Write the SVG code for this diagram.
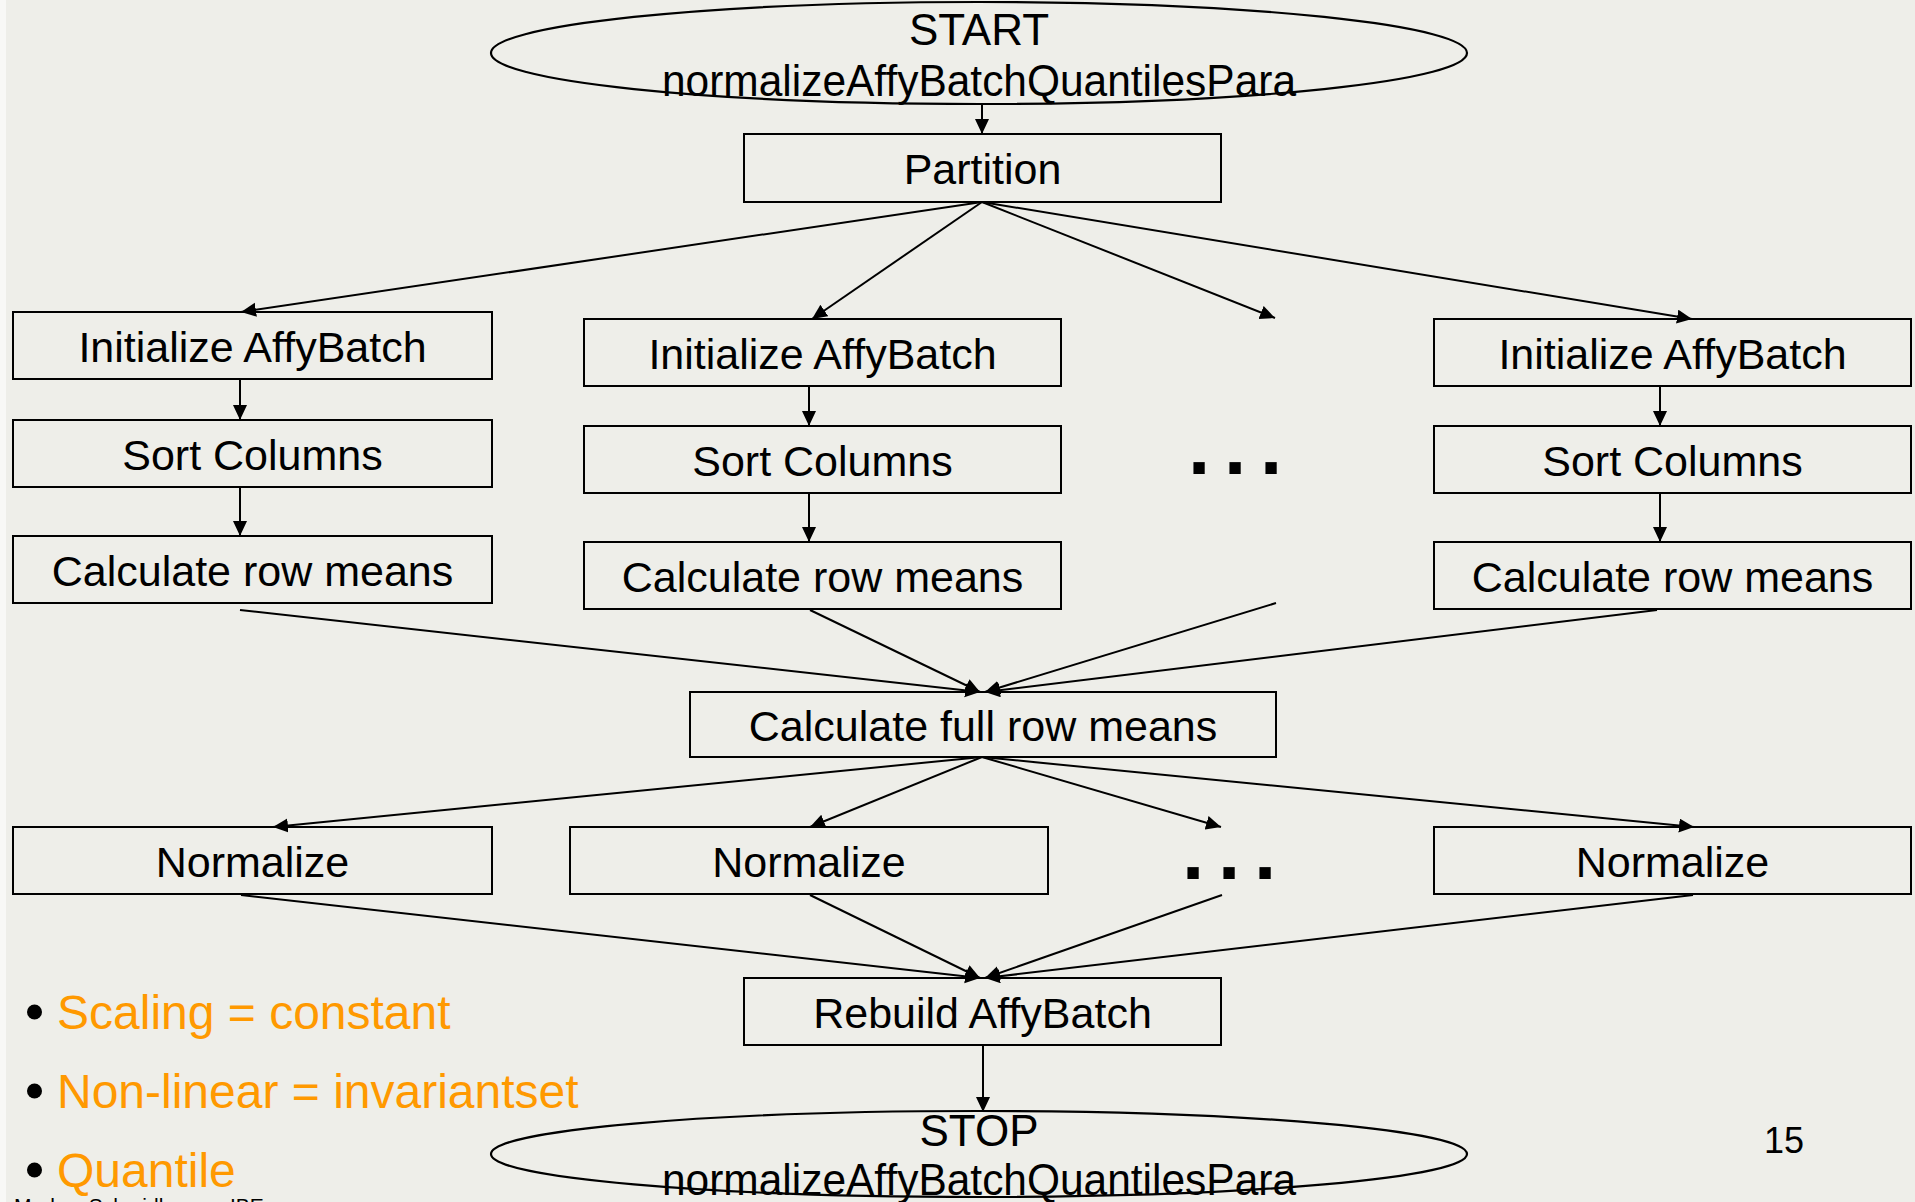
<svg xmlns="http://www.w3.org/2000/svg" width="1915" height="1202" viewBox="0 0 1915 1202">
  <style>
    .bg { fill: #EEEEE9; }
    .box { fill: none; stroke: #000; stroke-width: 2; }
    .term { fill: none; stroke: #000; stroke-width: 2.2; }
    .lbl { font-family: "Liberation Sans", Arial, sans-serif; font-size: 43px; fill: #000; text-anchor: middle; }
    .tlbl { font-family: "Liberation Sans", Arial, sans-serif; font-size: 44px; fill: #000; text-anchor: middle; }
    .dots { font-family: "Liberation Sans", Arial, sans-serif; font-size: 80px; font-weight: bold; fill: #000; }
    .edge { fill: none; stroke: #000; stroke-width: 2; }
    .bullet { font-family: "Liberation Sans", Arial, sans-serif; font-size: 48px; fill: #FF9900; }
    .dot { fill: #000; }
    .foot { font-family: "Liberation Sans", Arial, sans-serif; font-size: 21px; fill: #000; }
    .page { font-family: "Liberation Sans", Arial, sans-serif; font-size: 36px; fill: #000; }
  </style>
  <defs>
    <marker id="arrow" markerUnits="userSpaceOnUse" markerWidth="16" markerHeight="15" refX="15" refY="7" orient="auto">
      <path d="M0,0 L15,7 L0,14 z" fill="#000"/>
    </marker>
  </defs>

  <rect class="bg" x="0" y="0" width="1915" height="1202"/>
  <rect x="0" y="0" width="6" height="1202" fill="#F8F8F6"/>

  <!-- connectors -->
  <g id="connectors">
    <line class="edge" x1="982" y1="104" x2="982" y2="134" marker-end="url(#arrow)"/>
    <!-- partition fan-out -->
    <line class="edge" x1="982" y1="202" x2="241" y2="312" marker-end="url(#arrow)"/>
    <line class="edge" x1="982" y1="202" x2="812" y2="319" marker-end="url(#arrow)"/>
    <line class="edge" x1="982" y1="202" x2="1275" y2="318" marker-end="url(#arrow)"/>
    <line class="edge" x1="982" y1="202" x2="1692" y2="319" marker-end="url(#arrow)"/>
    <!-- column 1 -->
    <line class="edge" x1="240" y1="379" x2="240" y2="420" marker-end="url(#arrow)"/>
    <line class="edge" x1="240" y1="487" x2="240" y2="536" marker-end="url(#arrow)"/>
    <!-- column 2 -->
    <line class="edge" x1="809" y1="386" x2="809" y2="426" marker-end="url(#arrow)"/>
    <line class="edge" x1="809" y1="493" x2="809" y2="542" marker-end="url(#arrow)"/>
    <!-- column 4 -->
    <line class="edge" x1="1660" y1="386" x2="1660" y2="426" marker-end="url(#arrow)"/>
    <line class="edge" x1="1660" y1="493" x2="1660" y2="542" marker-end="url(#arrow)"/>
    <!-- row means merge -->
    <line class="edge" x1="240" y1="610" x2="980" y2="692" marker-end="url(#arrow)"/>
    <line class="edge" x1="810" y1="610" x2="980" y2="692" marker-end="url(#arrow)"/>
    <line class="edge" x1="1276" y1="603" x2="985" y2="692" marker-end="url(#arrow)"/>
    <line class="edge" x1="1657" y1="610" x2="985" y2="692" marker-end="url(#arrow)"/>
    <!-- full row means fan-out -->
    <line class="edge" x1="982" y1="757" x2="273" y2="827" marker-end="url(#arrow)"/>
    <line class="edge" x1="982" y1="757" x2="810" y2="827" marker-end="url(#arrow)"/>
    <line class="edge" x1="982" y1="757" x2="1221" y2="827" marker-end="url(#arrow)"/>
    <line class="edge" x1="982" y1="757" x2="1694" y2="827" marker-end="url(#arrow)"/>
    <!-- normalize merge -->
    <line class="edge" x1="241" y1="895" x2="980" y2="978" marker-end="url(#arrow)"/>
    <line class="edge" x1="810" y1="895" x2="980" y2="978" marker-end="url(#arrow)"/>
    <line class="edge" x1="1222" y1="895" x2="985" y2="978" marker-end="url(#arrow)"/>
    <line class="edge" x1="1693" y1="895" x2="985" y2="978" marker-end="url(#arrow)"/>
    <!-- to stop -->
    <line class="edge" x1="983" y1="1045" x2="983" y2="1112" marker-end="url(#arrow)"/>
  </g>

  <!-- terminals -->
  <g id="start">
    <ellipse class="term" cx="979" cy="53" rx="488" ry="51"/>
    <text class="tlbl" x="979" y="45">START</text>
    <text class="tlbl" x="979" y="96" textLength="634" lengthAdjust="spacingAndGlyphs">normalizeAffyBatchQuantilesPara</text>
  </g>
  <g id="stop">
    <ellipse class="term" cx="979" cy="1154" rx="488" ry="43"/>
    <text class="tlbl" x="979" y="1146">STOP</text>
    <text class="tlbl" x="979" y="1195" textLength="634" lengthAdjust="spacingAndGlyphs">normalizeAffyBatchQuantilesPara</text>
  </g>

  <g id="partition">
    <rect class="box" x="744" y="134" width="477" height="68"/>
    <text class="lbl" x="982.5" y="184">Partition</text>
  </g>

  <!-- column 1 -->
  <g id="init1">
    <rect class="box" x="13" y="312" width="479" height="67"/>
    <text class="lbl" x="252.5" y="362">Initialize AffyBatch</text>
  </g>
  <g id="sort1">
    <rect class="box" x="13" y="420" width="479" height="67"/>
    <text class="lbl" x="252.5" y="470">Sort Columns</text>
  </g>
  <g id="means1">
    <rect class="box" x="13" y="536" width="479" height="67"/>
    <text class="lbl" x="252.5" y="586">Calculate row means</text>
  </g>

  <!-- column 2 -->
  <g id="init2">
    <rect class="box" x="584" y="319" width="477" height="67"/>
    <text class="lbl" x="822.5" y="369">Initialize AffyBatch</text>
  </g>
  <g id="sort2">
    <rect class="box" x="584" y="426" width="477" height="67"/>
    <text class="lbl" x="822.5" y="476">Sort Columns</text>
  </g>
  <g id="means2">
    <rect class="box" x="584" y="542" width="477" height="67"/>
    <text class="lbl" x="822.5" y="592">Calculate row means</text>
  </g>

  <!-- elided columns -->
  <g id="more1">
    <text class="dots" x="1188 1224 1260" y="474">...</text>
  </g>

  <!-- column 4 -->
  <g id="init4">
    <rect class="box" x="1434" y="319" width="477" height="67"/>
    <text class="lbl" x="1672.5" y="369">Initialize AffyBatch</text>
  </g>
  <g id="sort4">
    <rect class="box" x="1434" y="426" width="477" height="67"/>
    <text class="lbl" x="1672.5" y="476">Sort Columns</text>
  </g>
  <g id="means4">
    <rect class="box" x="1434" y="542" width="477" height="67"/>
    <text class="lbl" x="1672.5" y="592">Calculate row means</text>
  </g>

  <g id="fullmeans">
    <rect class="box" x="690" y="692" width="586" height="65"/>
    <text class="lbl" x="983" y="741">Calculate full row means</text>
  </g>

  <g id="norm1">
    <rect class="box" x="13" y="827" width="479" height="67"/>
    <text class="lbl" x="252.5" y="877">Normalize</text>
  </g>
  <g id="norm2">
    <rect class="box" x="570" y="827" width="478" height="67"/>
    <text class="lbl" x="809" y="877">Normalize</text>
  </g>
  <g id="more2">
    <text class="dots" x="1182 1218 1254" y="879">...</text>
  </g>
  <g id="norm4">
    <rect class="box" x="1434" y="827" width="477" height="67"/>
    <text class="lbl" x="1672.5" y="877">Normalize</text>
  </g>

  <g id="rebuild">
    <rect class="box" x="744" y="978" width="477" height="67"/>
    <text class="lbl" x="982.5" y="1028">Rebuild AffyBatch</text>
  </g>

  <!-- method list -->
  <g id="methods">
    <circle class="dot" cx="34.5" cy="1012" r="7.5"/>
    <text class="bullet" x="57" y="1029">Scaling = constant</text>
    <circle class="dot" cx="34.5" cy="1091" r="7.5"/>
    <text class="bullet" x="57" y="1108">Non-linear = invariantset</text>
    <circle class="dot" cx="34.5" cy="1170" r="7.5"/>
    <text class="bullet" x="57" y="1187">Quantile</text>
  </g>

  <text class="page" x="1764" y="1153">15</text>
  <text class="foot" x="14" y="1213">Markus Schmidberger, IBE</text>
</svg>
